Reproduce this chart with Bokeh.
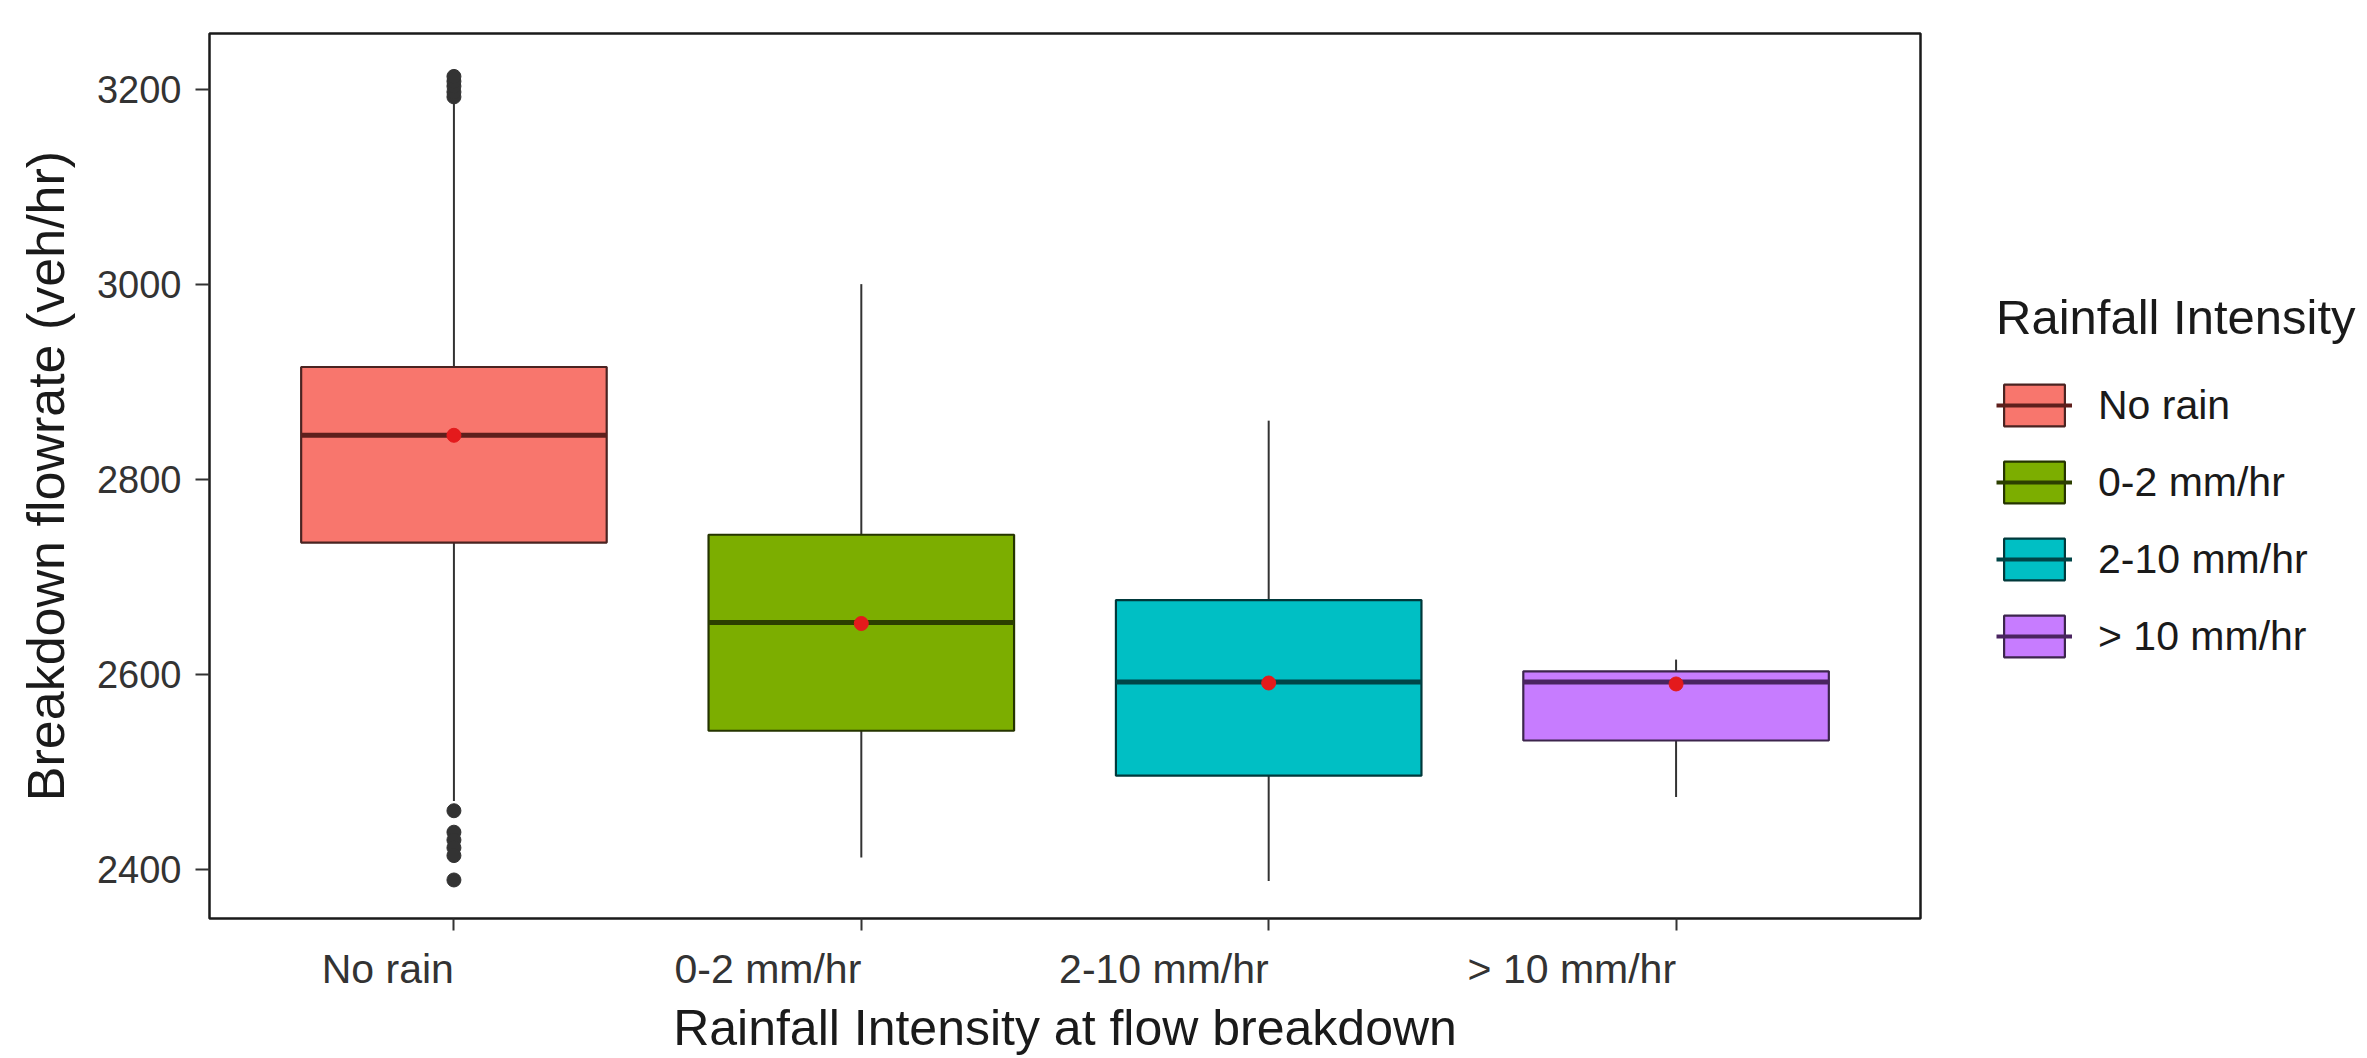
import numpy as np
from bokeh.plotting import figure
from bokeh.layouts import row
from bokeh.models import FactorRange, Range1d, FixedTicker, Legend, LegendItem, ColumnDataSource
from bokeh.transform import dodge
from bokeh.embed import file_html
from bokeh.resources import INLINE

# ---- data ----
categories = ["No rain", "0-2 mm/hr", "2-10 mm/hr", "> 10 mm/hr"]
q1 = [2735, 2542, 2496, 2532]
medians = [2845, 2653, 2592, 2592]
q3 = [2915, 2743, 2676, 2603]
lower_whisker = [2470, 2412, 2388, 2474]
upper_whisker = [3188, 3000, 2860, 2615]
means = [2845, 2652, 2591, 2590]
outlier_cat = ["No rain"] * 11
outlier_val = [3192, 3197, 3203, 3208, 3213, 2460, 2438, 2430, 2422, 2414, 2389]
y_ticks = [2400, 2600, 2800, 3000, 3200]

fill_colors = ["#F8766D", "#7CAE00", "#00BFC4", "#C77CFF"]
edge_colors = ["#4a2321", "#253400", "#00393b", "#3c254d"]
median_colors = ["#5e1f1c", "#2c3f00", "#004547", "#4a2460"]

FONT = "Liberation Sans"

src = ColumnDataSource(dict(
    cat=categories, q1=q1, med=medians, q3=q3, lo=lower_whisker, hi=upper_whisker,
    mean=means, fill=fill_colors, edge=edge_colors, medc=median_colors,
))
out_src = ColumnDataSource(dict(cat=outlier_cat, val=outlier_val))

MAIN_W = 1923
p = figure(
    width=MAIN_W, height=1058,
    x_range=FactorRange(factors=categories, range_padding=0.05, range_padding_units="percent"),
    y_range=Range1d(2349.5, 3257),
    output_backend="svg", toolbar_location=None,
    min_border_left=209, min_border_right=3, min_border_top=33, min_border_bottom=138,
)
p.background_fill_color = "white"
p.border_fill_color = "white"
p.xgrid.visible = False
p.ygrid.visible = False
p.outline_line_color = "#1a1a1a"
p.outline_line_width = 2.5

# whiskers
p.segment(x0="cat", y0="q3", x1="cat", y1="hi", source=src, line_color="#333333", line_width=2)
p.segment(x0="cat", y0="lo", x1="cat", y1="q1", source=src, line_color="#333333", line_width=2)
# boxes
p.vbar(x="cat", width=0.75, bottom="q1", top="q3", source=src,
       fill_color="fill", line_color="edge", line_width=2.2)
# medians
p.segment(x0=dodge("cat", -0.375, range=p.x_range), x1=dodge("cat", 0.375, range=p.x_range),
          y0="med", y1="med", source=src, line_color="medc", line_width=5)
# outliers
p.scatter(x="cat", y="val", source=out_src, size=14, fill_color="#333333", line_color="#333333")
# means
p.scatter(x="cat", y="mean", source=src, size=14, fill_color="#e41a1c", line_color="#e41a1c")

# axes
p.yaxis.ticker = FixedTicker(ticks=y_ticks)
p.yaxis.axis_label = "Breakdown flowrate (veh/hr)"
p.xaxis.axis_label = "Rainfall Intensity at flow breakdown"
for ax in (p.xaxis[0], p.yaxis[0]):
    ax.axis_line_color = None
    ax.major_tick_line_color = "#333333"
    ax.major_tick_line_width = 2
    ax.minor_tick_line_color = None
    ax.major_tick_in = 0
    ax.major_label_text_font = FONT
    ax.major_label_text_color = "#333333"
    ax.axis_label_text_font = FONT
    ax.axis_label_text_font_style = "normal"
    ax.axis_label_text_color = "#1a1a1a"
p.yaxis.axis_label_text_font_size = "52px"
p.xaxis.axis_label_text_font_size = "50px"
p.yaxis.major_tick_out = 14
p.yaxis.major_label_text_font_size = "38px"
p.yaxis.major_label_standoff = 14
p.yaxis.axis_label_standoff = 19
p.xaxis.major_tick_out = 12
p.xaxis.major_label_text_font_size = "41px"
p.xaxis.major_label_standoff = 38
p.xaxis.major_label_orientation = 0.0001
p.xaxis.axis_label_standoff = -18

# ---- legend panel (separate figure to the right; proxy glyphs carry only the styles) ----
lg_src = ColumnDataSource(dict(
    cat=categories, fill=fill_colors, edge=edge_colors, medc=median_colors,
    nanv=np.full(len(categories), np.nan),
))
lg = figure(
    width=2367 - MAIN_W, height=1058,
    x_range=FactorRange(factors=categories), y_range=Range1d(0, 1),
    output_backend="svg", toolbar_location=None,
    x_axis_location=None, y_axis_location=None,
    min_border_left=0, min_border_right=0, min_border_top=0, min_border_bottom=0,
)
lg.outline_line_color = None
lg.xgrid.visible = False
lg.ygrid.visible = False
lg_box = lg.vbar(x="cat", width=0.75, bottom="nanv", top="nanv", source=lg_src,
                 fill_color="fill", line_color="edge", line_width=2.2)
lg_med = lg.segment(x0="nanv", x1="nanv", y0="nanv", y1="nanv", source=lg_src,
                    line_color="medc", line_width=4)

items = [LegendItem(label=c, renderers=[lg_box, lg_med], index=i) for i, c in enumerate(categories)]
legend = Legend(
    items=items, title="Rainfall Intensity",
    location=(1996 - MAIN_W, 256),
    title_text_font=FONT, title_text_font_size="49px", title_text_font_style="normal",
    title_text_color="#1a1a1a", title_standoff=34,
    label_text_font=FONT, label_text_font_size="41px", label_text_color="#1a1a1a",
    glyph_width=76, glyph_height=52, label_height=50, label_standoff=26, spacing=25,
    padding=0, margin=0, border_line_color=None, background_fill_alpha=0,
)
lg.add_layout(legend, "center")

layout = row(p, lg, spacing=0)
open("out.html", "w").write(file_html(layout, INLINE))
